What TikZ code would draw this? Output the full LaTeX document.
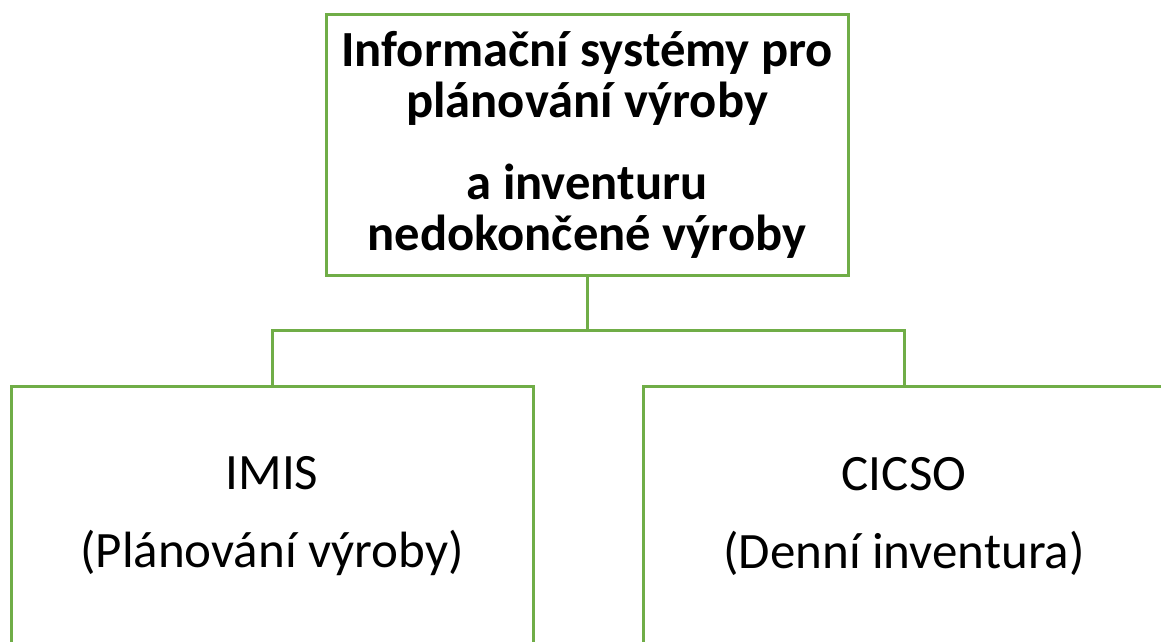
\documentclass[tikz,border=0pt]{standalone}
\usepackage{fontspec}
\setmainfont{Carlito}
\usepackage{tikz}
\usetikzlibrary{positioning}

\definecolor{boxgreen}{RGB}{112,173,71}

\tikzset{
    orgbox/.style={draw=boxgreen, line width=1.5pt, rectangle, align=center,
        minimum width=261pt, minimum height=130pt, inner sep=0pt},
    link/.style={draw=boxgreen, line width=1.5pt}
}

\begin{document}
\begin{tikzpicture}[x=0.5pt, y=-0.5pt]
    % Canvas
    \useasboundingbox (0, 0) rectangle (1161, 642);

    % Parent box
    \node[orgbox, font=\fontsize{25.3}{25.3}\selectfont\bfseries] (system) at (587, 145)
        {Informační systémy pro\\plánování výroby\\[16pt]a inventuru\\nedokončené výroby};

    % Child boxes
    \node[orgbox, font=\fontsize{25.5}{39}\selectfont] (imis) at (272, 516)
        {IMIS\\(Plánování výroby)};
    \node[orgbox, font=\fontsize{25.5}{39}\selectfont] (cicso) at (904, 516)
        {CICSO\\(Denní inventura)};

    % Connectors
    \coordinate (fork) at (587, 330);
    \draw[link] (system.south) -- (fork) -| (imis.north);
    \draw[link] (fork) -| (cicso.north);
\end{tikzpicture}
\end{document}
